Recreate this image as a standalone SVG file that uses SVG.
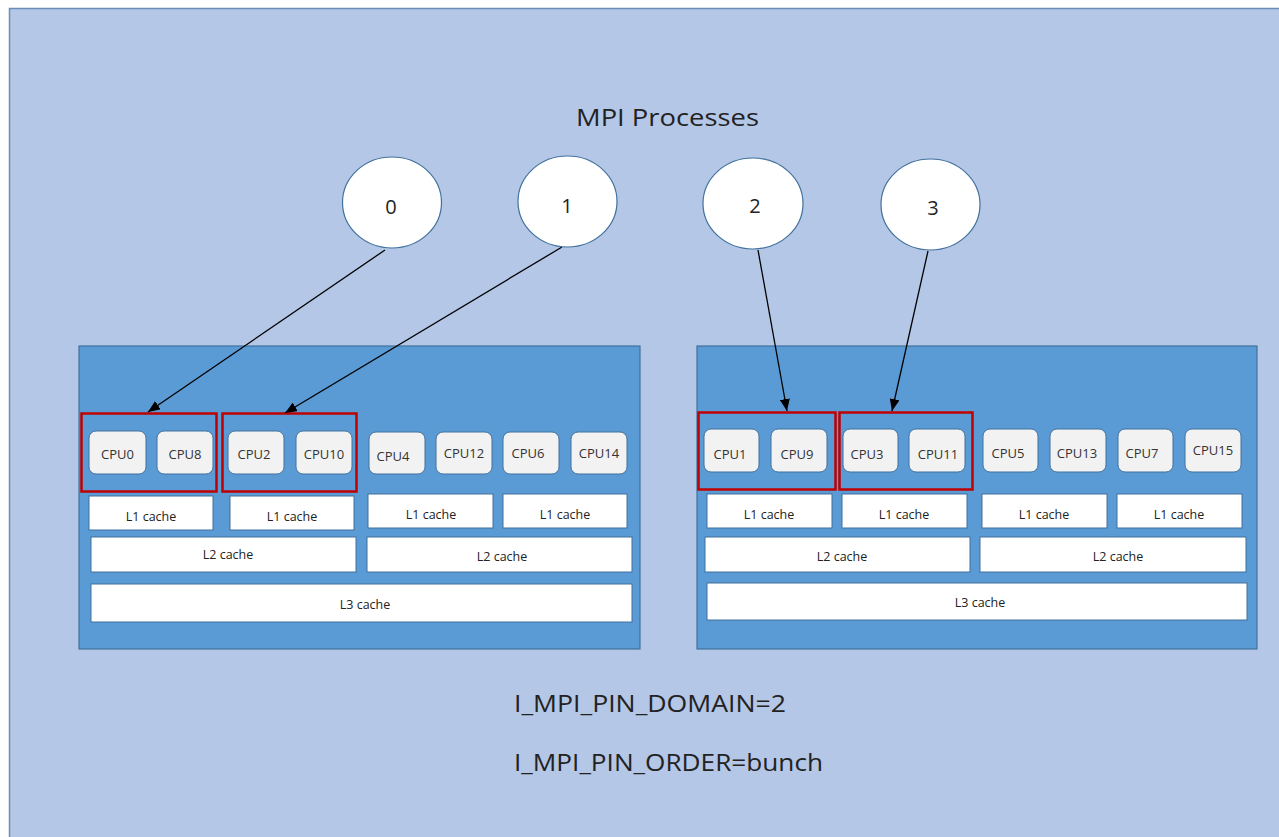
<svg xmlns="http://www.w3.org/2000/svg" width="1279" height="837" viewBox="0 0 1279 837">
<defs>
<style>
.bg{fill:#b4c7e7;stroke:#6a8cb8;stroke-width:1.5}
.sock{fill:#5b9bd5;stroke:#41719c;stroke-width:1.2}
.cpu{fill:#f2f2f2;stroke:#41719c;stroke-width:1}
.cache{fill:#ffffff;stroke:#41719c;stroke-width:1}
.dom{fill:none;stroke:#c00000;stroke-width:2.5}
.proc{fill:#ffffff;stroke:#41719c;stroke-width:1.2}
.ct{font-family:"Open Sans","Noto Sans",sans-serif;font-size:13px;fill:#333;text-anchor:middle}
.kt{font-family:"Open Sans","Noto Sans",sans-serif;font-size:12.5px;fill:#222;text-anchor:middle}
.pt{font-family:"Open Sans","Noto Sans",sans-serif;font-size:20px;fill:#222;text-anchor:middle}
.big{font-family:"Open Sans","Noto Sans",sans-serif;font-size:24.5px;fill:#222}
.conn{stroke:#000;stroke-width:1.3;fill:none}
</style>
<marker id="ah" viewBox="0 0 12 10" refX="12" refY="5" markerWidth="12" markerHeight="10" markerUnits="userSpaceOnUse" orient="auto">
<path d="M0,0 L12,5 L0,10 Z" fill="#000"/>
</marker>
</defs>
<rect class="bg" x="9.5" y="8.5" width="1275" height="835"/>
<text class="big" x="576" y="126" textLength="183" lengthAdjust="spacingAndGlyphs">MPI Processes</text>

<g id="socket0">
<rect class="sock" x="79" y="346" width="561" height="303"/>
<g id="cpus0">
<rect class="cpu" x="89" y="431" width="57" height="43" rx="7"/><text class="ct" x="117.5" y="459">CPU0</text>
<rect class="cpu" x="157" y="431" width="56" height="43" rx="7"/><text class="ct" x="185" y="459">CPU8</text>
<rect class="cpu" x="228" y="431" width="56" height="43" rx="7"/><text class="ct" x="254" y="459">CPU2</text>
<rect class="cpu" x="296" y="431" width="56" height="43" rx="7"/><text class="ct" x="324" y="459">CPU10</text>
<rect class="cpu" x="369" y="432" width="56" height="42" rx="7"/><text class="ct" x="393" y="461">CPU4</text>
<rect class="cpu" x="436" y="432" width="56" height="42" rx="7"/><text class="ct" x="464" y="458">CPU12</text>
<rect class="cpu" x="503" y="432" width="56" height="42" rx="7"/><text class="ct" x="528" y="458">CPU6</text>
<rect class="cpu" x="571" y="432" width="56" height="42" rx="7"/><text class="ct" x="599" y="458">CPU14</text>
</g>
<rect class="cache" x="89" y="496" width="124" height="34"/><text class="kt" x="151" y="521">L1 cache</text>
<rect class="cache" x="230" y="496" width="124" height="34"/><text class="kt" x="292" y="521">L1 cache</text>
<rect class="cache" x="368" y="494" width="125" height="34"/><text class="kt" x="431" y="519">L1 cache</text>
<rect class="cache" x="503" y="494" width="124" height="34"/><text class="kt" x="565" y="519">L1 cache</text>
<rect class="cache" x="91" y="537" width="265" height="35"/><text class="kt" x="228" y="559">L2 cache</text>
<rect class="cache" x="367" y="537" width="265" height="35"/><text class="kt" x="502" y="561">L2 cache</text>
<rect class="cache" x="91" y="584" width="541" height="38"/><text class="kt" x="365" y="609">L3 cache</text>
<rect class="dom" x="81.5" y="413.5" width="135" height="78"/>
<rect class="dom" x="222.5" y="413.5" width="134" height="78"/>
</g>

<g id="socket1">
<rect class="sock" x="697" y="346" width="560" height="303"/>
<g id="cpus1">
<rect class="cpu" x="704" y="429" width="55" height="43" rx="7"/><text class="ct" x="730" y="459">CPU1</text>
<rect class="cpu" x="771" y="429" width="56" height="43" rx="7"/><text class="ct" x="797" y="459">CPU9</text>
<rect class="cpu" x="843" y="429" width="55" height="43" rx="7"/><text class="ct" x="867" y="459">CPU3</text>
<rect class="cpu" x="909" y="429" width="56" height="43" rx="7"/><text class="ct" x="938" y="459">CPU11</text>
<rect class="cpu" x="983" y="429" width="55" height="43" rx="7"/><text class="ct" x="1008" y="458">CPU5</text>
<rect class="cpu" x="1050" y="429" width="56" height="43" rx="7"/><text class="ct" x="1077" y="458">CPU13</text>
<rect class="cpu" x="1118" y="429" width="55" height="43" rx="7"/><text class="ct" x="1142" y="458">CPU7</text>
<rect class="cpu" x="1185" y="429" width="56" height="43" rx="7"/><text class="ct" x="1213" y="455">CPU15</text>
</g>
<rect class="cache" x="707" y="494" width="125" height="34"/><text class="kt" x="769" y="519">L1 cache</text>
<rect class="cache" x="842" y="494" width="125" height="34"/><text class="kt" x="904" y="519">L1 cache</text>
<rect class="cache" x="982" y="494" width="125" height="34"/><text class="kt" x="1044" y="519">L1 cache</text>
<rect class="cache" x="1117" y="494" width="125" height="34"/><text class="kt" x="1179" y="519">L1 cache</text>
<rect class="cache" x="705" y="537" width="265" height="35"/><text class="kt" x="842" y="561">L2 cache</text>
<rect class="cache" x="980" y="537" width="266" height="35"/><text class="kt" x="1118" y="561">L2 cache</text>
<rect class="cache" x="707" y="583" width="540" height="37"/><text class="kt" x="980" y="607">L3 cache</text>
<rect class="dom" x="698.5" y="412.5" width="137" height="77"/>
<rect class="dom" x="839.5" y="412.5" width="133" height="77"/>
</g>

<g id="connectors">
<line class="conn" x1="385" y1="250" x2="148" y2="412" marker-end="url(#ah)"/>
<line class="conn" x1="562" y1="247" x2="285" y2="413" marker-end="url(#ah)"/>
<line class="conn" x1="758" y1="250" x2="787" y2="411" marker-end="url(#ah)"/>
<line class="conn" x1="928" y1="251" x2="892" y2="411" marker-end="url(#ah)"/>
</g>

<g id="p0"><ellipse class="proc" cx="392" cy="202.5" rx="49.5" ry="45.5"/><text class="pt" x="391" y="214">0</text></g>
<g id="p1"><ellipse class="proc" cx="567.5" cy="201.5" rx="49.5" ry="45.5"/><text class="pt" x="567" y="213">1</text></g>
<g id="p2"><ellipse class="proc" cx="753" cy="203.5" rx="50" ry="45.5"/><text class="pt" x="755" y="213">2</text></g>
<g id="p3"><ellipse class="proc" cx="930.5" cy="204.5" rx="49.5" ry="45.5"/><text class="pt" x="933" y="215">3</text></g>

<text class="big" x="514" y="712" textLength="272" lengthAdjust="spacingAndGlyphs">I_MPI_PIN_DOMAIN=2</text>
<text class="big" x="514" y="771" textLength="309" lengthAdjust="spacingAndGlyphs">I_MPI_PIN_ORDER=bunch</text>
</svg>
